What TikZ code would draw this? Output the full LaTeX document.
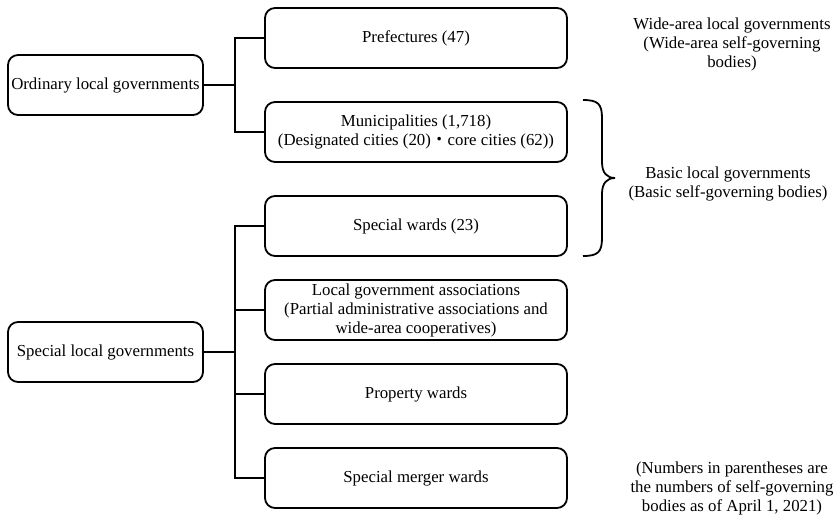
\documentclass[tikz,border=0pt]{standalone}
\usepackage{fontspec}
\setmainfont{Liberation Serif}
\newfontfamily\cjk{Noto Sans CJK JP}
\begin{document}
\begin{tikzpicture}[x=1pt,y=-1pt,
  every node/.style={font=\fontsize{16.8}{19}\selectfont, align=center, inner sep=0pt},
  lbox/.style={draw, line width=1.8pt, rounded corners=10pt, minimum width=195pt, minimum height=60pt},
  rbox/.style={draw, line width=1.8pt, rounded corners=10pt, minimum width=302pt, minimum height=60pt},
  conn/.style={line width=1.8pt}]
\useasboundingbox (0,0) rectangle (839,519);
% left boxes
\node[lbox] (ord) at (105.5,85) {Ordinary local governments};
\node[lbox] (spec) at (105.5,352) {Special local governments};
% right boxes
\node[rbox] (pref) at (416,38) {Prefectures (47)};
\node[rbox] (muni) at (416,132) {Municipalities (1,718)\\(Designated cities (20){\cjk ・}core cities (62))};
\node[rbox] (sward) at (416,226) {Special wards (23)};
\node[rbox] (assoc) at (416,310) {Local government associations\\(Partial administrative associations and\\wide-area cooperatives)};
\node[rbox] (prop) at (416,394) {Property wards};
\node[rbox] (merg) at (416,478) {Special merger wards};
% junctions
\coordinate (j1) at (235,85);
\coordinate (j2) at (235,352);
\draw[conn] (ord.east) -- (j1);
\draw[conn] (pref.west) -| (j1) |- (muni.west);
\draw[conn] (spec.east) -- (j2);
\draw[conn] (sward.west) -| (j2) |- (merg.west);
\draw[conn] (assoc.west) -- (assoc.west -| j2);
\draw[conn] (prop.west) -- (prop.west -| j2);
% brace
\coordinate (btip) at (615,178);
\draw[line width=1.8pt] (583,100) .. controls (598,100) and (602,104) .. (602,118) -- (602,162)
  .. controls (602,173) and (607,178) .. (btip)
  .. controls (607,178) and (602,183) .. (602,194) -- (602,238)
  .. controls (602,252) and (598,256) .. (583,256);
% texts
\node (wide) at (732,44) {Wide-area local governments\\(Wide-area self-governing\\bodies)};
\node (basic) at (728,184) {Basic local governments\\(Basic self-governing bodies)};
\node (numnote) at (732,488) {(Numbers in parentheses are\\the numbers of self-governing\\bodies as of April 1, 2021)};
\end{tikzpicture}
\end{document}
